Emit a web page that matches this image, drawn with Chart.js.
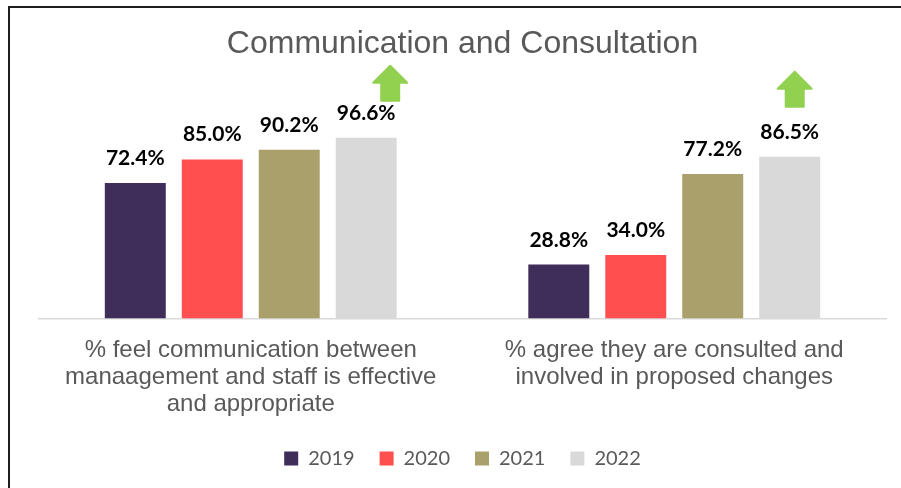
<!DOCTYPE html>
<html>
<head>
<meta charset="utf-8">
<script src="https://cdn.jsdelivr.net/npm/chart.js@4"></script>
<style>
  html, body { margin: 0; padding: 0; background: #fff; overflow: hidden; }
  #wrap { position: relative; width: 901px; height: 488px; }
  #frame { position: absolute; left: 8px; top: 6px; width: 1000px; height: 1000px;
           border-left: 2px solid #1e1e1e; border-top: 2px solid #1e1e1e; box-sizing: border-box; }
  canvas { position: absolute; left: 0; top: 0; }
</style>
</head>
<body>
<div id="wrap">
  <canvas id="chart" width="901" height="488"></canvas>
  <div id="frame"></div>
</div>
<script>
const categories = [
  ['% feel communication between', 'manaagement and staff is effective', 'and appropriate'],
  ['% agree they are consulted and', 'involved in proposed changes']
];
const years = ['2019', '2020', '2021', '2022'];
const values2019 = [72.4, 28.8];
const values2020 = [85.0, 34.0];
const values2021 = [90.2, 77.2];
const values2022 = [96.6, 86.5];
const seriesColors = ['#3f2d5a', '#ff4f4f', '#a9a06c', '#d9d9d9'];

const grey = '#595959';

// value labels above every bar
const barLabels = {
  id: 'barLabels',
  afterDatasetsDraw(chart) {
    const ctx = chart.ctx;
    ctx.save();
    ctx.font = 'bold 21px Lato';
    ctx.fillStyle = '#000';
    ctx.textAlign = 'center';
    ctx.textBaseline = 'alphabetic';
    chart.data.datasets.forEach((ds, i) => {
      chart.getDatasetMeta(i).data.forEach((bar, j) => {
        ctx.fillText(ds.data[j].toFixed(1) + '%', bar.x, bar.y - 18);
      });
    });
    ctx.restore();
  }
};

// green "up" arrows next to the latest year
const upArrows = {
  id: 'upArrows',
  afterDatasetsDraw(chart, args, opts) {
    const ctx = chart.ctx;
    ctx.save();
    ctx.fillStyle = opts.color;
    ctx.strokeStyle = opts.color;
    ctx.lineJoin = 'round';
    ctx.lineWidth = 2;
    opts.items.forEach(a => {
      const bar = chart.getDatasetMeta(a.dataset).data[a.index];
      const cx = bar.x + a.dx, bottom = bar.y + a.dy;
      const w = 34, h = 35, headH = 17, shaftW = 18;
      const top = bottom - h;
      ctx.beginPath();
      ctx.moveTo(cx, top);
      ctx.lineTo(cx + w / 2, top + headH);
      ctx.lineTo(cx + shaftW / 2, top + headH);
      ctx.lineTo(cx + shaftW / 2, bottom);
      ctx.lineTo(cx - shaftW / 2, bottom);
      ctx.lineTo(cx - shaftW / 2, top + headH);
      ctx.lineTo(cx - w / 2, top + headH);
      ctx.closePath();
      ctx.fill();
      ctx.stroke();
    });
    ctx.restore();
  }
};

const allValues = [values2019, values2020, values2021, values2022];

new Chart(document.getElementById('chart').getContext('2d'), {
  type: 'bar',
  data: {
    labels: categories,
    datasets: years.map((y, i) => ({
      label: y,
      data: allValues[i],
      backgroundColor: seriesColors[i],
      borderWidth: 0,
      categoryPercentage: 0.727,
      barPercentage: 0.792
    }))
  },
  options: {
    responsive: false,
    animation: false,
    layout: { padding: { left: 39, right: 15, top: 0, bottom: 9.5 } },
    scales: {
      x: {
        grid: { display: false },
        border: { display: true, color: '#d9d9d9', width: 1.5 },
        ticks: {
          color: grey,
          padding: 10,
          font: { family: 'Liberation Sans', size: 24, lineHeight: 27 / 24 }
        },
        afterFit(scale) { scale.height = 105; }
      },
      y: {
        display: false,
        min: 0,
        max: 100
      }
    },
    plugins: {
      title: {
        display: true,
        text: 'Communication and Consultation',
        color: grey,
        font: { family: 'Liberation Sans', size: 32, weight: 'normal', lineHeight: 1.2 },
        padding: { top: 25, bottom: 68 }
      },
      legend: {
        position: 'bottom',
        labels: {
          color: grey,
          boxWidth: 14,
          boxHeight: 14,
          padding: 25,
          font: { family: 'Lato', size: 20 }
        }
      },
      tooltip: { enabled: false },
      upArrows: {
        color: '#92d050',
        items: [
          { dataset: 3, index: 0, dx: 24, dy: -37 },
          { dataset: 3, index: 1, dx: 5, dy: -50 }
        ]
      }
    }
  },
  plugins: [barLabels, upArrows]
});
</script>
</body>
</html>
